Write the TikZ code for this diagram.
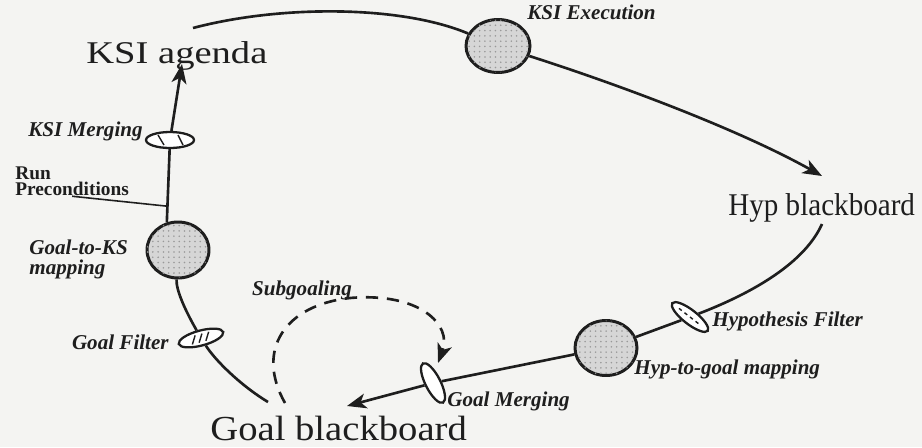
\documentclass[tikz,border=0pt]{standalone}
\usepackage{fontspec}
\setmainfont{Liberation Serif}
\usetikzlibrary{arrows.meta,shapes.geometric,calc,patterns}
\definecolor{ink}{HTML}{1E1E1E}
\definecolor{paper}{HTML}{F4F4F2}
\definecolor{stipple}{HTML}{D6D6D6}

\begin{document}
\begin{tikzpicture}[x=0.02cm,y=-0.02cm,
  inkline/.style={draw=ink, line width=1.5pt},
  ksnode/.style={ellipse, draw=ink, line width=1.7pt, fill=stipple, inner sep=0pt,
    postaction={pattern=dots, pattern color=gray!80}},
  filt/.style={ellipse, draw=ink, line width=1.3pt, fill=white, inner sep=0pt},
  hatch/.style={draw=ink, line width=0.8pt},
  lab/.style={font=\fontsize{12}{11}\selectfont\bfseries\itshape, text=ink, inner sep=0pt},
  board/.style={text=ink, inner sep=0pt, anchor=base west},
  tip/.style={-{Stealth[length=11pt,width=8.5pt,inset=3pt]}},
]
% paper and frame
\fill[paper] (0,0) rectangle (922,447);
\useasboundingbox (0,0) rectangle (922,447);

% knowledge-source processes
\node[ksnode, minimum width=1.28cm, minimum height=1.06cm] (ksiexec) at (498,46) {};
\node[ksnode, minimum width=1.24cm, minimum height=1.12cm] (goalks) at (178,250) {};
\node[ksnode, minimum width=1.24cm, minimum height=1.10cm] (hypgoal) at (606,348) {};

% filters and merging stages
\node[filt, minimum width=0.96cm, minimum height=0.32cm] (ksimerge) at (170,140) {};
\node[filt, minimum width=0.92cm, minimum height=0.30cm, rotate=15] (goalfilter) at (201,338) {};
\node[filt, minimum width=0.90cm, minimum height=0.28cm, rotate=-38] (hypfilter) at (690,317) {};
\node[filt, minimum width=0.88cm, minimum height=0.30cm, rotate=-63] (goalmerge) at (433,383) {};

% blackboards and agenda
\node[board, font=\fontsize{18}{20}\selectfont] (ksiag) at (86,63) {\scalebox{1.22}[1]{KSI agenda}};
\node[board, font=\fontsize{18}{20}\selectfont] (hypbb) at (728,215) {\scalebox{0.92}[1]{Hyp blackboard}};
\node[board, font=\fontsize{20}{22}\selectfont] (goalbb) at (210,440) {\scalebox{1.1}[1]{Goal blackboard}};

% labels
\node[lab, anchor=west] (ksiexeclab) at (527,12) {KSI Execution};
\node[lab, anchor=east] (ksimergelab) at (143,131) {KSI Merging};
\node[lab, anchor=west] (hypfiltlab) at (712,321) {Hypothesis Filter};
\node[lab, anchor=west] (hypgoallab) at (634,369) {Hyp-to-goal mapping};
\node[lab, anchor=west] (goalmergelab) at (447,401) {Goal Merging};
\node[lab] (subgoallab) at (302,290) {Subgoaling};
\node[lab, anchor=east] (goalfiltlab) at (169,342) {Goal Filter};
\node[lab, anchor=north west, align=left] (goalkslab) at (29,240) {Goal-to-KS\\mapping};
\node[anchor=north west, align=left, font=\fontsize{11}{9.5}\selectfont\bfseries, text=ink, inner sep=0pt] (runpre) at (15,166) {Run\\Preconditions};

% loose ends of the connectors
\coordinate (arcstart) at (193,28);
\coordinate (hyptip) at (822,176);
\coordinate (hypstart) at (822,224);
\coordinate (goaltip) at (347,406);
\coordinate (subgoalstart) at (285,403);
\coordinate (subgoaltip) at (438,363);
\coordinate (goalstart) at (268,402);
\coordinate (ksitip) at (182,64);
\coordinate (runjoin) at ($(ksimerge.south)!0.78!(goalks.112)$);

% main cycle
\draw[inkline] (arcstart) .. controls (280,5) and (400,5) .. (ksiexec);
\draw[inkline, tip] (ksiexec) .. controls (620,85) and (740,130) .. (hyptip);
\draw[inkline] (hypstart) .. controls (805,262) and (755,292) .. (hypfilter);
\draw[inkline] (hypfilter) -- (hypgoal);
\draw[inkline] (hypgoal) -- (goalmerge);
\draw[inkline, tip] (goalmerge) -- (goaltip);
\draw[inkline] (goalstart) .. controls (240,385) and (215,360) .. (goalfilter);
\draw[inkline] (goalfilter) .. controls (185,310) and (176,290) .. (goalks);
\draw[inkline] (ksimerge) -- (goalks.112);
\draw[inkline, tip] (ksimerge) -- (ksitip);

% subgoaling loop
\draw[inkline, dash pattern=on 7pt off 5pt, tip] (subgoalstart)
  .. controls (255,350) and (285,305) .. (350,298)
  .. controls (420,292) and (452,325) .. (subgoaltip);

% leader for the preconditions label
\draw[draw=ink, line width=0.9pt] (runpre.south) -- (runjoin);

% hatching inside the filters
\begin{scope}[shift={(ksimerge.center)}]
  \draw[hatch] (-12,-5) -- (-6,5) (8,-5) -- (13,5);
\end{scope}
\begin{scope}[shift={(goalfilter.center)}, rotate=15]
  \draw[hatch] (-10,4) -- (-5,-4) (-3,4) -- (2,-4) (4,4) -- (9,-4);
\end{scope}
\begin{scope}[shift={(hypfilter.center)}, rotate=-38]
  \draw[hatch, dash pattern=on 2pt off 2pt] (-14,0) -- (14,0);
\end{scope}
\end{tikzpicture}
\end{document}
